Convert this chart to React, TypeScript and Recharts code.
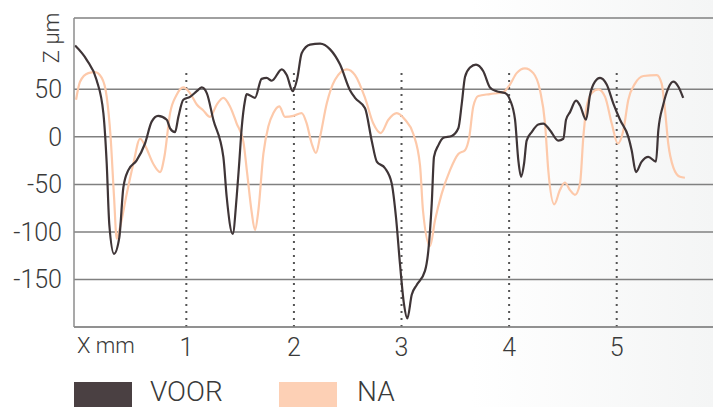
import React from 'react';
import { LineChart, Line, XAxis, YAxis, CartesianGrid, ReferenceLine } from 'recharts';

const voorX = [-0.034, 0.074, 0.165, 0.229, 0.26, 0.284, 0.328, 0.377, 0.415, 0.461, 0.537, 0.616, 0.678, 0.738, 0.818, 0.849, 0.895, 0.926, 0.972, 1.034, 1.097, 1.143, 1.19, 1.251, 1.344, 1.375, 1.431, 1.468, 1.49, 1.515, 1.545, 1.56, 1.638, 1.7, 1.747, 1.794, 1.887, 1.933, 1.989, 2.032, 2.072, 2.15, 2.243, 2.336, 2.429, 2.521, 2.568, 2.661, 2.723, 2.77, 2.847, 2.909, 2.949, 2.986, 3.023, 3.054, 3.095, 3.14, 3.218, 3.249, 3.281, 3.302, 3.342, 3.389, 3.467, 3.528, 3.56, 3.59, 3.637, 3.692, 3.76, 3.822, 3.884, 3.962, 4.008, 4.055, 4.086, 4.111, 4.139, 4.163, 4.21, 4.271, 4.318, 4.38, 4.457, 4.504, 4.529, 4.566, 4.622, 4.659, 4.715, 4.752, 4.798, 4.845, 4.907, 4.969, 5.031, 5.108, 5.139, 5.179, 5.232, 5.294, 5.365, 5.387, 5.433, 5.479, 5.526, 5.572, 5.618];
const voorZ = [96, 81, 60, 25, -28, -92, -123, -106, -53, -35, -25, -7, 16, 22, 18, 9, 5, 21, 39, 42, 48, 52, 46, 18, -21, -63, -102, -63, -30, 10, 38, 45, 41, 61, 62, 59, 71, 65, 48, 62, 88, 97, 98, 92, 76, 49, 41, 30, -4, -26, -33, -49, -85, -134, -176, -191, -166, -156, -141, -120, -70, -21, -9, -1, 1, 9, 35, 63, 73, 76, 69, 52, 48, 46, 39, 18, -25, -42, -28, -4, 5, 13, 14, 7, -4, -2, 18, 26, 38, 33, 18, 44, 58, 62, 55, 35, 18, 0, -14, -37, -26, -21, -26, 7, 34, 51, 58, 53, 41];

const naX = [-0.025, 0.012, 0.089, 0.151, 0.214, 0.26, 0.296, 0.328, 0.353, 0.384, 0.446, 0.508, 0.57, 0.616, 0.691, 0.756, 0.796, 0.849, 0.909, 0.972, 1.034, 1.097, 1.156, 1.22, 1.283, 1.344, 1.406, 1.468, 1.53, 1.565, 1.606, 1.638, 1.669, 1.716, 1.762, 1.809, 1.864, 1.917, 1.995, 2.072, 2.119, 2.165, 2.205, 2.243, 2.305, 2.382, 2.491, 2.568, 2.661, 2.738, 2.807, 2.878, 2.955, 3.033, 3.11, 3.172, 3.2, 3.265, 3.311, 3.373, 3.451, 3.528, 3.59, 3.63, 3.667, 3.714, 3.822, 3.946, 4.008, 4.07, 4.147, 4.225, 4.287, 4.334, 4.364, 4.42, 4.472, 4.518, 4.566, 4.612, 4.659, 4.69, 4.721, 4.768, 4.83, 4.892, 4.954, 5.01, 5.062, 5.108, 5.17, 5.248, 5.372, 5.418, 5.449, 5.479, 5.526, 5.588, 5.634];
const naZ = [39, 58, 67, 68, 62, 42, 0, -63, -107, -95, -60, -28, -2, -9, -28, -37, -21, 25, 44, 52, 46, 34, 28, 21, 34, 41, 32, 14, -5, -38, -78, -98, -78, -18, 11, 25, 32, 21, 22, 25, 14, -7, -17, 0, 35, 60, 71, 65, 41, 14, 4, 18, 25, 18, 3, -30, -78, -115, -88, -60, -35, -18, -14, 0, 32, 43, 45, 47, 55, 67, 72, 67, 49, 14, -35, -71, -56, -48, -56, -61, -49, 0, 32, 46, 50, 42, 14, -7, 7, 39, 56, 64, 65, 56, 28, -7, -32, -42, -43];

const xTicks = [1, 2, 3, 4, 5];
const yTicks = [-150, -100, -50, 0, 50];
const seriesNames = ['VOOR', 'NA'];
const seriesColors = ['#3f3537', '#fdc9aa'];
const legendColors = ['#4a4042', '#fdd0b5'];

const voorData = voorX.map((x, i) => ({ x, z: voorZ[i] }));
const naData = naX.map((x, i) => ({ x, z: naZ[i] }));

const FONT = 'Roboto, sans-serif';
const TEXT = '#3a3a3a';

export default function App() {
  return (
    <div
      style={{
        position: 'absolute',
        left: 0,
        top: 0,
        width: 713,
        height: 407,
        overflow: 'hidden',
        background: 'linear-gradient(to right, #ffffff 0%, #ffffff 66%, #f4f5f5 100%)',
        fontFamily: FONT,
      }}
    >
      <LineChart
        width={713}
        height={407}
        margin={{ top: 18, right: 0, bottom: 0, left: 0 }}
      >
        <CartesianGrid vertical={false} stroke="#808080" strokeWidth={1.5} />
        <XAxis
          type="number"
          dataKey="x"
          domain={[-0.044, 5.895]}
          ticks={xTicks}
          allowDataOverflow
          tickLine={false}
          tickSize={6}
          tickMargin={5}
          axisLine={{ stroke: '#8c8c8c', strokeWidth: 1.5 }}
          tick={{ fontSize: 25, fill: TEXT, fontFamily: FONT, fontWeight: 300 }}
          height={80}
        />
        <YAxis
          type="number"
          domain={[-200, 125]}
          ticks={yTicks}
          allowDataOverflow
          width={74}
          tickLine={false}
          tickSize={6}
          tickMargin={6}
          axisLine={{ stroke: '#8c8c8c', strokeWidth: 1.5 }}
          tick={{ fontSize: 25, fill: TEXT, fontFamily: FONT, fontWeight: 300 }}
        />
        {xTicks.map((t) => (
          <ReferenceLine
            key={t}
            segment={[{ x: t, y: -200 }, { x: t, y: 68 }]}
            stroke="#555"
            strokeWidth={2}
            strokeDasharray="2 5"
          />
        ))}
        <Line
          data={naData}
          dataKey="z"
          type="monotone"
          stroke={seriesColors[1]}
          strokeWidth={2.2}
          dot={false}
          isAnimationActive={false}
        />
        <Line
          data={voorData}
          dataKey="z"
          type="monotone"
          stroke={seriesColors[0]}
          strokeWidth={2.2}
          dot={false}
          isAnimationActive={false}
        />
      </LineChart>
      <div
        style={{
          position: 'absolute',
          left: 52,
          top: 38,
          transform: 'translate(-50%, -50%) rotate(-90deg)',
          transformOrigin: 'center',
          fontSize: 22,
          fontWeight: 300,
          color: TEXT,
          whiteSpace: 'nowrap',
          lineHeight: 1,
        }}
      >
        Z µm
      </div>
      <div
        style={{
          position: 'absolute',
          left: 77,
          top: 335,
          fontSize: 22,
          fontWeight: 300,
          color: TEXT,
          whiteSpace: 'nowrap',
          lineHeight: 1,
        }}
      >
        X mm
      </div>
      {seriesNames.map((name, i) => (
        <React.Fragment key={name}>
          <div
            style={{
              position: 'absolute',
              left: i === 0 ? 74 : 279,
              top: 382,
              width: 58,
              height: 30,
              background: legendColors[i],
            }}
          />
          <div
            style={{
              position: 'absolute',
              left: i === 0 ? 150 : 357,
              top: 378,
              fontSize: 28,
              fontWeight: 300,
              color: TEXT,
              whiteSpace: 'nowrap',
              lineHeight: 1,
            }}
          >
            {name}
          </div>
        </React.Fragment>
      ))}
    </div>
  );
}
